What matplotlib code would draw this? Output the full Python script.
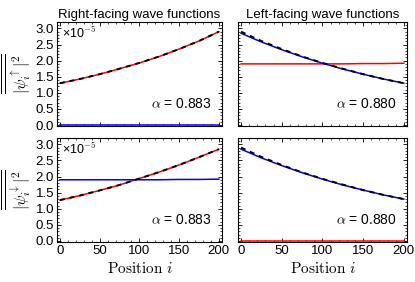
import matplotlib
matplotlib.use('Agg')
import matplotlib.pyplot as plt
import matplotlib.ticker as mticker

plt.rcParams['font.family'] = ['Liberation Sans', 'DejaVu Sans']
plt.rcParams['mathtext.fontset'] = 'cm'

# positions sampled along the chain
pos = [0, 25, 50, 75, 100, 125, 150, 175, 200]

# right-facing, spin up (units of 1e-5)
ru_red = [1.30, 1.43, 1.58, 1.75, 1.93, 2.13, 2.36, 2.61, 2.90]
ru_blue = [0.01, 0.01, 0.01, 0.01, 0.01, 0.01, 0.01, 0.01, 0.01]
# left-facing, spin up
lu_blue = [2.85, 2.58, 2.34, 2.12, 1.92, 1.74, 1.58, 1.43, 1.30]
lu_red = [1.90, 1.90, 1.90, 1.90, 1.90, 1.90, 1.91, 1.91, 1.92]
# right-facing, spin down
rd_red = [1.27, 1.41, 1.57, 1.74, 1.94, 2.14, 2.36, 2.60, 2.85]
rd_blue = [1.90, 1.90, 1.90, 1.90, 1.90, 1.90, 1.91, 1.91, 1.92]
# left-facing, spin down
ld_blue = [2.85, 2.58, 2.34, 2.12, 1.92, 1.74, 1.58, 1.43, 1.30]
ld_red = [0.01, 0.01, 0.01, 0.01, 0.01, 0.01, 0.01, 0.01, 0.01]

# dashed fits
ru_fit = [1.30, 1.43, 1.58, 1.75, 1.93, 2.13, 2.36, 2.61, 2.90]
lu_fit = [2.90, 2.61, 2.36, 2.13, 1.93, 1.75, 1.58, 1.43, 1.30]
rd_fit = [1.27, 1.41, 1.57, 1.74, 1.94, 2.14, 2.36, 2.60, 2.85]
ld_fit = [2.90, 2.61, 2.36, 2.13, 1.93, 1.75, 1.58, 1.43, 1.30]

alphas = ['0.883', '0.880', '0.883', '0.880']
titles = ['Right-facing wave functions', 'Left-facing wave functions']

fig = plt.figure(figsize=[4.15, 2.82], dpi=100)

boxes = [[0.137, 0.553, 0.398, 0.369],
         [0.573, 0.553, 0.408, 0.369],
         [0.137, 0.142, 0.398, 0.369],
         [0.573, 0.142, 0.408, 0.369]]

panels = [(ru_red, ru_blue, ru_fit),
          (lu_red, lu_blue, lu_fit),
          (rd_red, rd_blue, rd_fit),
          (ld_red, ld_blue, ld_fit)]

for k, (box, (red, blue, fit)) in enumerate(zip(boxes, panels)):
    ax = fig.add_axes(box)
    ax.plot(pos, red, color='red', lw=1.1)
    ax.plot(pos, blue, color='blue', lw=1.1)
    ax.plot(pos, fit, color='black', lw=1.4, ls=(0, (2.5, 2.5)))

    ax.set_xlim(-4, 204)
    ax.set_ylim(-0.03, 3.2)
    ax.xaxis.set_major_locator(mticker.MultipleLocator(50))
    ax.xaxis.set_minor_locator(mticker.MultipleLocator(10))
    ax.yaxis.set_major_locator(mticker.MultipleLocator(0.5))
    ax.yaxis.set_minor_locator(mticker.MultipleLocator(0.1))
    ax.tick_params(which='both', direction='in', top=True, right=True, labelsize=9.5, pad=2)
    ax.tick_params(which='major', length=3, width=0.6)
    ax.tick_params(which='minor', length=1.5, width=0.5)
    for s in ax.spines.values():
        s.set_linewidth(0.8)

    if k % 2 == 1:
        ax.tick_params(labelleft=False)
    else:
        ax.text(0.03, 0.97, '×10$^{\\mathsf{-5}}$', transform=ax.transAxes, ha='left', va='top', fontsize=9)
        lab = r'$\overline{\overline{|\psi_i^\uparrow|^2}}$' if k == 0 else r'$\overline{\overline{|\psi_i^\downarrow|^2}}$'
        ax.set_ylabel(lab, fontsize=11.5, labelpad=2)
    if k < 2:
        ax.tick_params(labelbottom=False)
        ax.set_title(titles[k], fontsize=9.5, pad=3)
    else:
        ax.set_xlabel(r'$\mathrm{Position}\ i$', fontsize=11, labelpad=3)

    ax.text(0.94, 0.14, r'$\alpha$ = ' + alphas[k], transform=ax.transAxes, ha='right', va='bottom', fontsize=10)

fig.savefig('out.png', dpi=100)
